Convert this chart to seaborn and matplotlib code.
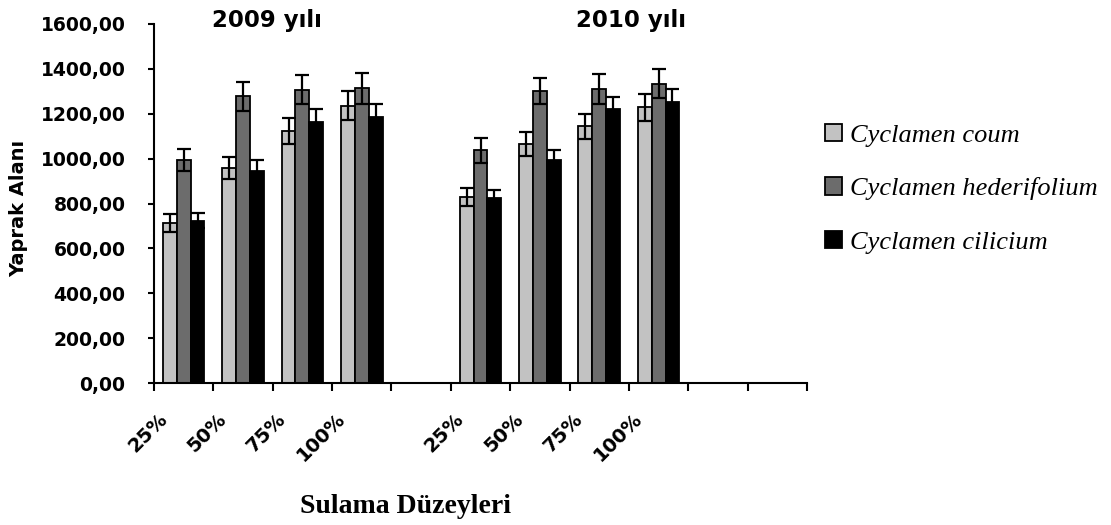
import matplotlib
matplotlib.use("Agg")
import matplotlib.pyplot as plt
import seaborn as sns
import pandas as pd
import numpy as np
from matplotlib.transforms import blended_transform_factory
from matplotlib.ticker import FuncFormatter
from matplotlib.patches import Patch

# Irrigation levels and the two study years
levels = ["25%", "50%", "75%", "100%"]
years = ["2009 yılı", "2010 yılı"]
species = ["Cyclamen coum", "Cyclamen hederifolium", "Cyclamen cilicium"]

# Leaf area means (2009 levels, then 2010 levels)
coum = [714, 959, 1124, 1236, 830, 1064, 1144, 1228]
hederifolium = [994, 1277, 1308, 1313, 1037, 1302, 1310, 1334]
cilicium = [723, 945, 1162, 1186, 825, 993, 1220, 1254]

# Error bar half-widths
coum_err = [39, 49, 59, 66, 41, 54, 57, 59]
hederifolium_err = [49, 63, 65, 69, 57, 59, 66, 65]
cilicium_err = [33, 47, 58, 58, 34, 44, 53, 58]

colors = ["#c2c2c2", "#6c6c6c", "#000000"]

values = {"Cyclamen coum": coum, "Cyclamen hederifolium": hederifolium,
          "Cyclamen cilicium": cilicium}
errors = {"Cyclamen coum": coum_err, "Cyclamen hederifolium": hederifolium_err,
          "Cyclamen cilicium": cilicium_err}

# Category slots along the x axis: 2009 block, a gap, 2010 block, trailing gaps
data_slots = [f"{y[:4]} {lv}" for y in years for lv in levels]
slots = data_slots[:4] + ["gap a"] + data_slots[4:] + ["gap b", "gap c"]
slot_labels = levels + [""] + levels + ["", ""]

rows = []
for sp in species:
    for slot, v in zip(data_slots, values[sp]):
        rows.append({"slot": slot, "species": sp, "value": v})
df = pd.DataFrame(rows)

plt.rcParams["font.family"] = ["DejaVu Sans"]
fig = plt.figure(figsize=(11.11, 5.25), dpi=100)
ax = fig.add_axes([154 / 1111, 1 - 383 / 525, 653 / 1111, 359 / 525])

sns.barplot(data=df, x="slot", y="value", hue="species", order=slots,
            hue_order=species, palette=colors, width=0.7, saturation=1,
            edgecolor="black", linewidth=1.3, errorbar=None, legend=False, ax=ax)

# Error bars centred on each drawn bar
for container, sp in zip(ax.containers, species):
    bars = sorted(container.patches, key=lambda p: p.get_x())
    xc = [b.get_x() + b.get_width() / 2 for b in bars]
    ax.errorbar(xc, values[sp], yerr=errors[sp], fmt="none", ecolor="black",
                elinewidth=1.6, capsize=4.8, capthick=1.6, zorder=5)

ax.set_xlim(-0.5, len(slots) - 0.5)
ax.set_ylim(0, 1600)
ax.set_yticks(np.arange(0, 1601, 200))
ax.yaxis.set_major_formatter(FuncFormatter(lambda v, _: f"{v:.2f}".replace(".", ",")))
for lab in ax.get_yticklabels():
    lab.set_fontweight("bold")
    lab.set_fontsize(13.5)

# Tick marks between categories; rotated labels anchored just left of each centre
ax.set_xticks(np.arange(-0.5, len(slots), 1))
ax.set_xticklabels([])
ax.set_xticks(np.arange(len(slots)) - 0.44, minor=True)
ax.set_xticklabels(slot_labels, minor=True, rotation=45, ha="right", va="top",
                   rotation_mode="anchor", fontsize=14, fontweight="bold")

ax.tick_params(axis="x", which="major", bottom=True, direction="out",
               length=5.5, width=1.5, color="black")
ax.tick_params(axis="x", which="minor", bottom=True, length=0, pad=19)
ax.tick_params(axis="y", left=True, direction="out", length=4.5, width=1.5,
               color="black", pad=16)

for side in ["top", "right"]:
    ax.spines[side].set_visible(False)
for side in ["left", "bottom"]:
    ax.spines[side].set_linewidth(1.5)
    ax.spines[side].set_color("black")
ax.set_facecolor("white")

ax.set_xlabel("")
ax.set_ylabel("Yaprak Alanı", fontsize=14, fontweight="bold")
ax.yaxis.set_label_coords(-0.192, 0.487)

# Year captions above each block
trans = blended_transform_factory(ax.transData, fig.transFigure)
ax.text(1.40, 1 - 20 / 525, years[0], transform=trans, ha="center", va="center",
        fontsize=16.5, fontweight="bold", clip_on=False)
ax.text(7.53, 1 - 20 / 525, years[1], transform=trans, ha="center", va="center",
        fontsize=16.5, fontweight="bold", clip_on=False)

fig.text(405 / 1111, 1 - 513 / 525, "Sulama Düzeyleri", ha="center", va="baseline",
         fontsize=20, fontweight="bold", family="Liberation Serif")

handles = [Patch(facecolor=c, edgecolor="black", linewidth=1.3, label=sp)
           for c, sp in zip(colors, species)]
fig.legend(handles=handles, loc="upper left", bbox_to_anchor=(825 / 1111, 1 - 124 / 525),
           frameon=False, prop={"family": "Liberation Serif", "style": "italic", "size": 19},
           handlelength=0.64, handleheight=0.64, handletextpad=0.3, labelspacing=1.15,
           borderaxespad=0, borderpad=0)

fig.savefig("out.png", dpi=100, facecolor="white")
